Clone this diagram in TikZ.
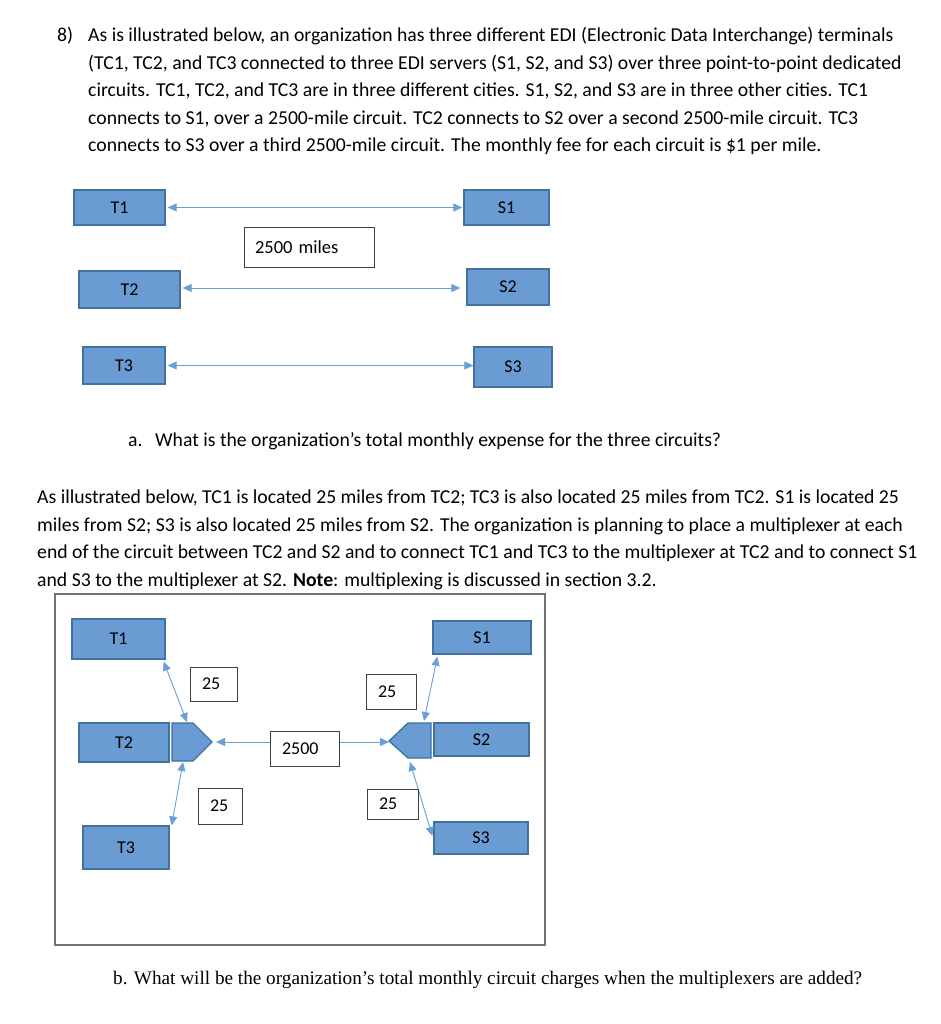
\documentclass[tikz,border=0pt]{standalone}
\usepackage{fontspec}
\setmainfont{Carlito}
\newfontfamily\timesfont{Liberation Serif}
\usetikzlibrary{arrows.meta,calc}
\definecolor{boxfill}{HTML}{6A9BD2}
\definecolor{boxline}{HTML}{41719C}
\definecolor{arrowcol}{HTML}{6A9FD8}
\begin{document}
\begin{tikzpicture}[x=1pt,y=-1pt,
  bluebox/.style={draw=boxline, fill=boxfill, line width=1.3pt, inner sep=0pt, font=\fontsize{18}{20}\selectfont},
  muxshape/.style={draw=boxline, fill=boxfill, line width=1.3pt, line join=miter},
  lbl/.style={draw=black!75, fill=white, line width=0.9pt, inner ysep=0pt, inner xsep=12pt, align=left, font=\fontsize{18}{20}\selectfont},
  frame/.style={draw=black!55, line width=1.2pt, inner sep=0pt},
  link/.style={draw=arrowcol, line width=0.9pt, {Triangle[length=9pt,width=8pt]}-{Triangle[length=9pt,width=8pt]}},
  txt/.style={anchor=base west, inner sep=0pt, font=\fontsize{19.7}{22}\selectfont},
  btxt/.style={anchor=base west, inner sep=0pt, font=\timesfont\fontsize{19.2}{22}\selectfont},
]
\useasboundingbox[fill=white] (0,0) rectangle (941,1024);

% ---- question text ----
\node[txt] (n8) at (57,42) {8)};
\node[txt] (p1) at (88,42) {As is illustrated below, an organization has three different EDI (Electronic Data Interchange) terminals};
\node[txt] (p2) at (88,69.5) {(TC1, TC2, and TC3 connected to three EDI servers (S1, S2, and S3) over three point-to-point dedicated};
\node[txt] (p3) at (88,97) {circuits. TC1, TC2, and TC3 are in three different cities. S1, S2, and S3 are in three other cities. TC1};
\node[txt] (p4) at (88,124.5) {connects to S1, over a 2500-mile circuit. TC2 connects to S2 over a second 2500-mile circuit. TC3};
\node[txt] (p5) at (88,152) {connects to S3 over a third 2500-mile circuit. The monthly fee for each circuit is \$1 per mile.};

% ---- top diagram ----
\node[bluebox, minimum width=91, minimum height=35] (T1) at (119.5,207.5) {T1};
\node[bluebox, minimum width=85, minimum height=35] (S1) at (506.5,207.5) {S1};
\node[bluebox, minimum width=101, minimum height=37] (T2) at (129.5,289.5) {T2};
\node[bluebox, minimum width=82, minimum height=36] (S2) at (508,287) {S2};
\node[bluebox, minimum width=82, minimum height=37] (T3) at (124,365.5) {T3};
\node[bluebox, minimum width=78, minimum height=40] (S3) at (513,367) {S3};
\node[lbl, text width=108, minimum height=40, inner xsep=11pt, font=\fontsize{18.5}{20}\selectfont] (miles) at (309,247) {2500 miles\\[-3pt]};

\draw[link] ($(T1.east)+(2,0)$) -- ($(S1.west)+(-1,0)$);
\draw[link] ($(T2.east)+(2,-1.5)$) -- ($(S2.west)+(-6,1)$);
\draw[link] ($(T3.east)+(2,0)$) -- (S3.west |- T3.east);

% ---- question a ----
\node[txt] (qa) at (128,446) {a.};
\node[txt] (qatext) at (155,446) {What is the organization’s total monthly expense for the three circuits?};

% ---- second paragraph ----
\node[txt] (r1) at (37,503) {As illustrated below, TC1 is located 25 miles from TC2; TC3 is also located 25 miles from TC2. S1 is located 25};
\node[txt] (r2) at (37,531) {miles from S2; S3 is also located 25 miles from S2. The organization is planning to place a multiplexer at each};
\node[txt] (r3) at (37,558) {end of the circuit between TC2 and S2 and to connect TC1 and TC3 to the multiplexer at TC2 and to connect S1};
\node[txt] (r4) at (37,586) {and S3 to the multiplexer at S2. \textbf{Note}: multiplexing is discussed in section 3.2.};

% ---- bottom diagram ----
\node[frame, minimum width=490, minimum height=351] (fr) at (300,769.5) {};

\node[bluebox, minimum width=93, minimum height=40] (T1b) at (118.5,639) {T1};
\node[bluebox, minimum width=90, minimum height=39] (T2b) at (124,742.5) {T2};
\node[bluebox, minimum width=86, minimum height=43] (T3b) at (126,847.5) {T3};
\node[bluebox, minimum width=98, minimum height=33] (S1b) at (482,637.5) {S1};
\node[bluebox, minimum width=95, minimum height=33] (S2b) at (481.5,739.5) {S2};
\node[bluebox, minimum width=94, minimum height=32] (S3b) at (481,838) {S3};

% multiplexers
\draw[muxshape] (172,723) -- (193,723) -- (212,742) -- (193,761) -- (172,761) -- cycle;
\coordinate (muxL) at (192,742);
\draw[muxshape] (431,723) -- (408,723) -- (389,741) -- (408,758) -- (431,758) -- cycle;
\coordinate (muxR) at (410,740.5);

\draw[link] ($(T1b.south east)+(-2,2)$) -- ($(muxL)+(-5,-20)$);
\draw[link] ($(muxL)+(-9,20)$) -- ($(T3b.north east)+(2,0)$);
\draw[link] ($(muxL)+(24,0)$) -- ($(muxR)+(-21,1.5)$);
\draw[link] ($(S1b.south west)+(5,2)$) -- ($(muxR)+(14,-19.5)$);
\draw[link] ($(muxR)+(0,21.5)$) -- ($(S3b.west)+(-1,-2)$);

\node[lbl, text width=23, minimum height=34] (L1) at (213.5,684) {25};
\node[lbl, text width=20, minimum height=36] (L2) at (220,806) {25};
\node[lbl, text width=45, minimum height=35] (L3) at (304.5,748.5) {2500};
\node[lbl, text width=26, minimum height=35] (L4) at (391,691.5) {25};
\node[lbl, text width=27, minimum height=30] (L5) at (392.5,804) {25};

% ---- question b ----
\node[btxt] (qb) at (113,984) {b. What will be the organization’s total monthly circuit charges when the multiplexers are added?};
\end{tikzpicture}
\end{document}
